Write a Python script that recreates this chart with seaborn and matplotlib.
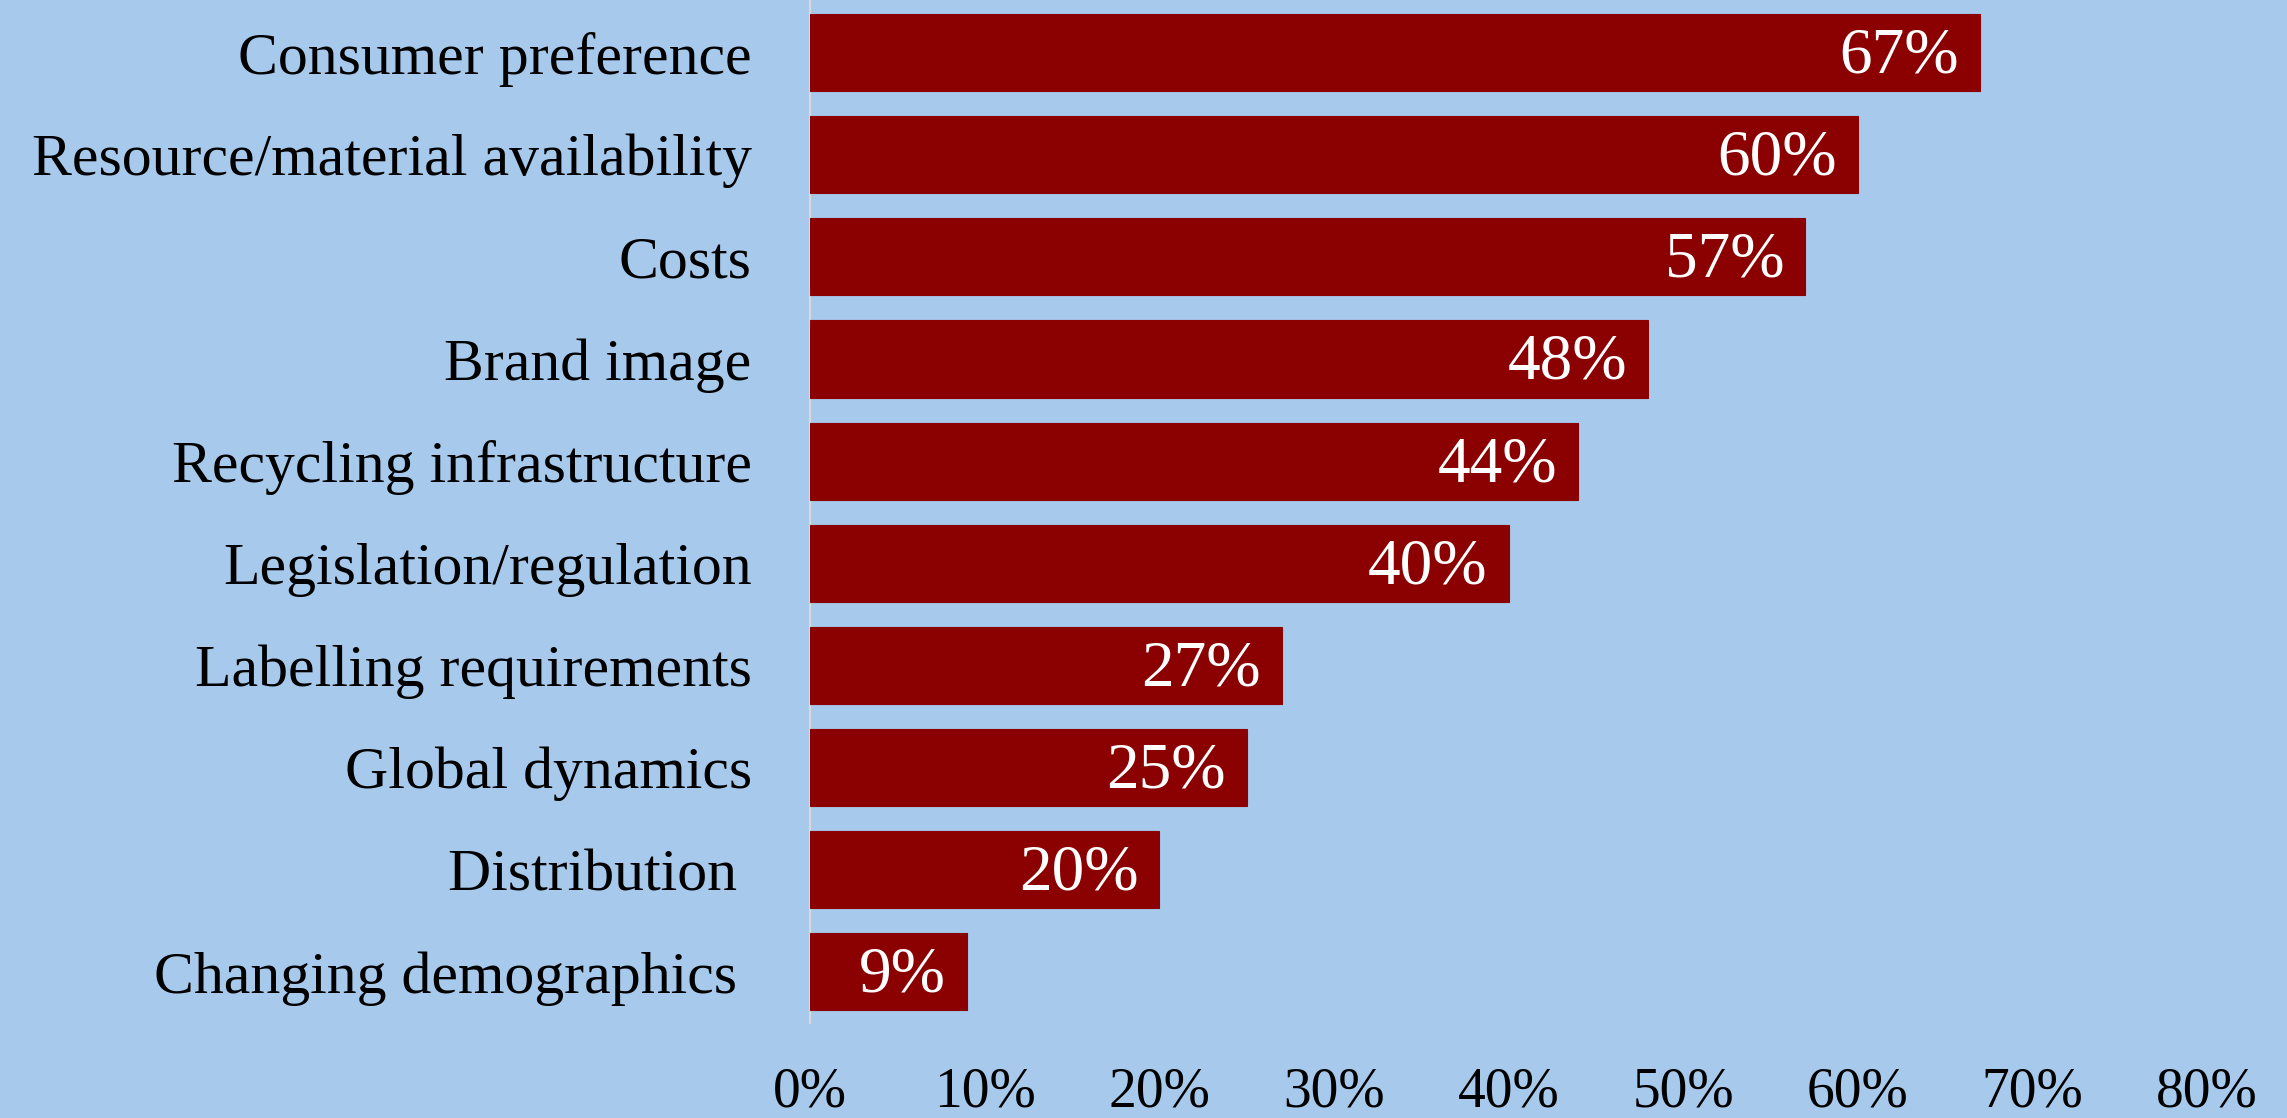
import matplotlib
matplotlib.use("Agg")
import matplotlib.pyplot as plt
import seaborn as sns
import pandas as pd

# Factors and share of respondents (%)
factors = [
    "Consumer preference",
    "Resource/material availability",
    "Costs",
    "Brand image",
    "Recycling infrastructure",
    "Legislation/regulation",
    "Labelling requirements",
    "Global dynamics",
    "Distribution ",
    "Changing demographics ",
]
shares = [67, 60, 57, 48, 44, 40, 27, 25, 20, 9]
x_ticks = [0, 10, 20, 30, 40, 50, 60, 70, 80]
x_tick_labels = ["0%", "10%", "20%", "30%", "40%", "50%", "60%", "70%", "80%"]

BG = "#A7CAEC"
BAR = "#8B0000"

plt.rcParams["font.family"] = ["Liberation Serif", "DejaVu Serif"]

df = pd.DataFrame({"factor": factors, "share": shares})

fig = plt.figure(figsize=(22.87, 11.18), dpi=100, facecolor=BG)
ax = fig.add_axes([0.3542, 0.085, 0.9650 - 0.3542, 0.9987 - 0.085])
ax.set_facecolor(BG)

sns.barplot(data=df, x="share", y="factor", orient="h", color=BAR,
            width=0.755, saturation=1, ax=ax, edgecolor=BAR, linewidth=0.8)

ax.set_xlim(0, 80)
ax.set_ylim(len(factors) - 0.5, -0.5)
ax.set_xticks(x_ticks)
ax.set_xticklabels(x_tick_labels, fontsize=40)
ax.tick_params(axis="x", length=0, pad=31)
ax.tick_params(axis="y", length=0, pad=42, labelsize=43)
ax.set_xlabel("")
ax.set_ylabel("")
ax.grid(False)

for side in ("top", "right", "bottom"):
    ax.spines[side].set_visible(False)
ax.spines["left"].set_color("#D9D9D9")
ax.spines["left"].set_linewidth(1.5)
ax.spines["left"].set_zorder(0)

# Value labels inside the bar ends
for patch, v in zip(ax.patches, shares):
    y_mid = patch.get_y() + patch.get_height() / 2
    ax.annotate(f"{v}%", xy=(patch.get_width(), y_mid), xytext=(-15, -3),
                textcoords="offset points", ha="right", va="center",
                color="white", fontsize=47)

fig.savefig("out.png", dpi=100, facecolor=BG)
